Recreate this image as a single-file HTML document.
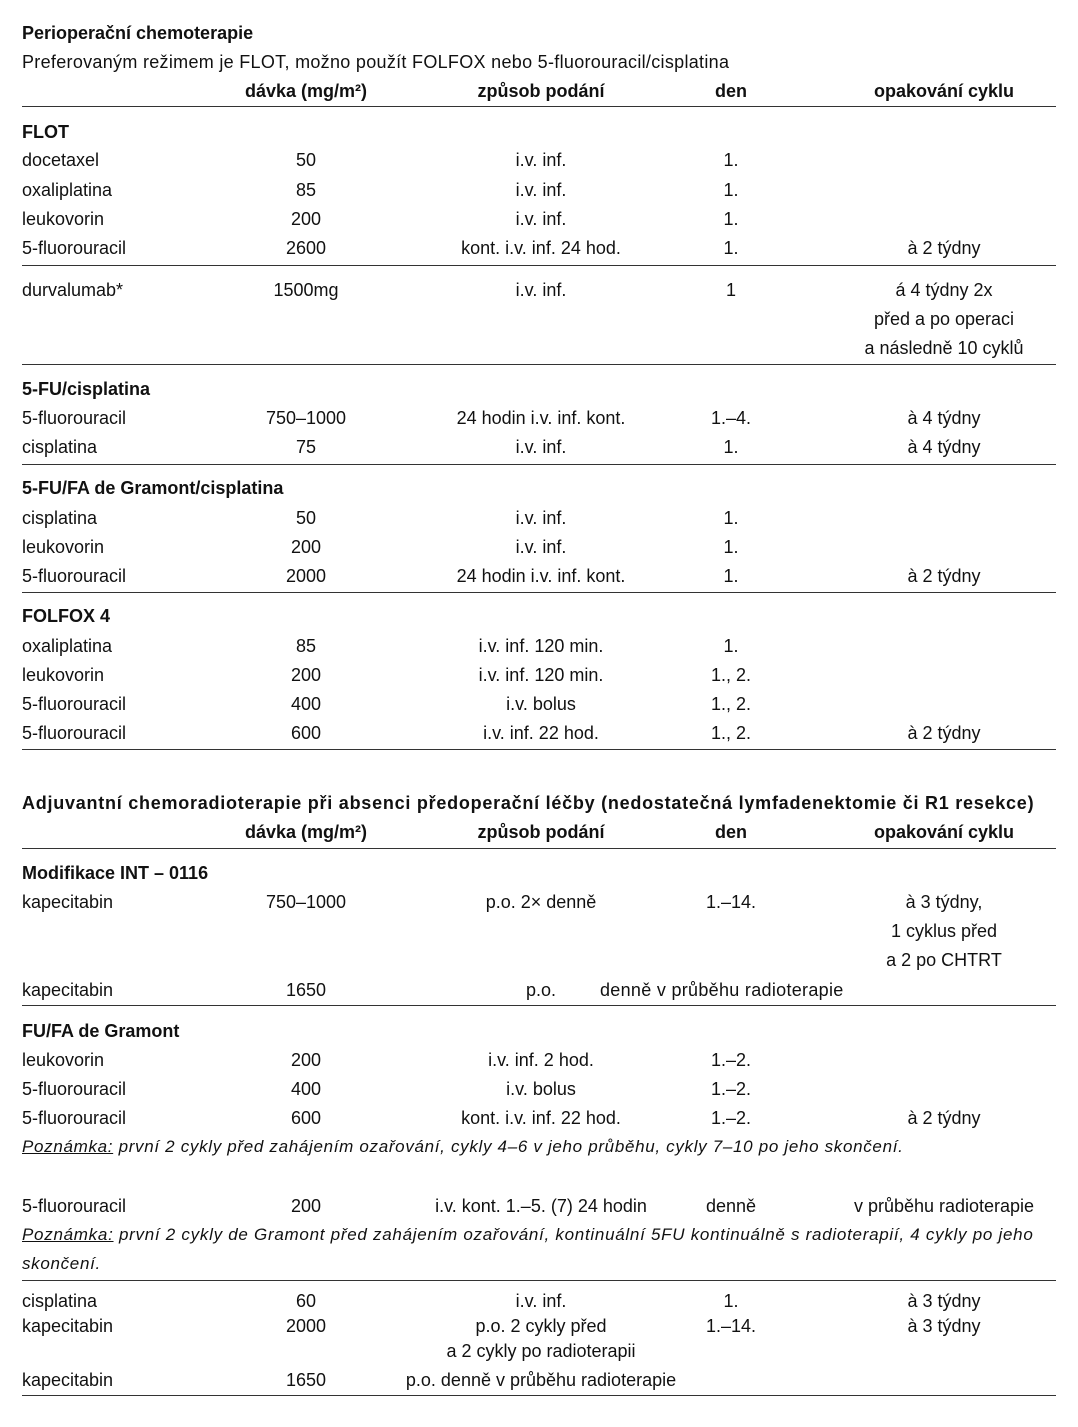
<!DOCTYPE html>
<html><head><meta charset="utf-8"><style>
body{margin:0;width:1078px;height:1427px;background:#fff;position:relative;font-family:"Liberation Sans",sans-serif;font-size:18px;color:#111;overflow:hidden}
div{position:absolute;line-height:22px;white-space:nowrap}
.l{left:22px}
.d{left:306px;transform:translateX(-50%)}
.r{left:541px;transform:translateX(-50%)}
.n{left:731px;transform:translateX(-50%)}
.y{left:944px;transform:translateX(-50%)}
.b{font-weight:bold}
.h{height:1px;background:#333;left:22px;width:1034px}
.it{font-size:17px;letter-spacing:0.68px}
</style></head><body>
<div class="l b" style="top:22px">Perioperační chemoterapie</div>
<div class="l" style="top:51px;letter-spacing:0.3px">Preferovaným režimem je FLOT, možno použít FOLFOX nebo 5-fluorouracil/cisplatina</div>
<div class="d b" style="top:80px">dávka (mg/m²)</div><div class="r b" style="top:80px">způsob podání</div><div class="n b" style="top:80px">den</div><div class="y b" style="top:80px">opakování cyklu</div>
<div class="h" style="top:106px"></div>
<div class="l b" style="top:121px">FLOT</div>
<div class="l" style="top:149px">docetaxel</div><div class="d" style="top:149px">50</div><div class="r" style="top:149px">i.v. inf.</div><div class="n" style="top:149px">1.</div>
<div class="l" style="top:179px">oxaliplatina</div><div class="d" style="top:179px">85</div><div class="r" style="top:179px">i.v. inf.</div><div class="n" style="top:179px">1.</div>
<div class="l" style="top:208px">leukovorin</div><div class="d" style="top:208px">200</div><div class="r" style="top:208px">i.v. inf.</div><div class="n" style="top:208px">1.</div>
<div class="l" style="top:237px">5-fluorouracil</div><div class="d" style="top:237px">2600</div><div class="r" style="top:237px">kont. i.v. inf. 24 hod.</div><div class="n" style="top:237px">1.</div><div class="y" style="top:237px">à 2 týdny</div>
<div class="h" style="top:265px"></div>
<div class="l" style="top:279px">durvalumab*</div><div class="d" style="top:279px">1500mg</div><div class="r" style="top:279px">i.v. inf.</div><div class="n" style="top:279px">1</div><div class="y" style="top:279px">á 4 týdny 2x</div>
<div class="y" style="top:308px">před a po operaci</div>
<div class="y" style="top:337px">a následně 10 cyklů</div>
<div class="h" style="top:364px"></div>
<div class="l b" style="top:378px">5-FU/cisplatina</div>
<div class="l" style="top:407px">5-fluorouracil</div><div class="d" style="top:407px">750–1000</div><div class="r" style="top:407px">24 hodin i.v. inf. kont.</div><div class="n" style="top:407px">1.–4.</div><div class="y" style="top:407px">à 4 týdny</div>
<div class="l" style="top:436px">cisplatina</div><div class="d" style="top:436px">75</div><div class="r" style="top:436px">i.v. inf.</div><div class="n" style="top:436px">1.</div><div class="y" style="top:436px">à 4 týdny</div>
<div class="h" style="top:464px"></div>
<div class="l b" style="top:477px">5-FU/FA de Gramont/cisplatina</div>
<div class="l" style="top:507px">cisplatina</div><div class="d" style="top:507px">50</div><div class="r" style="top:507px">i.v. inf.</div><div class="n" style="top:507px">1.</div>
<div class="l" style="top:536px">leukovorin</div><div class="d" style="top:536px">200</div><div class="r" style="top:536px">i.v. inf.</div><div class="n" style="top:536px">1.</div>
<div class="l" style="top:565px">5-fluorouracil</div><div class="d" style="top:565px">2000</div><div class="r" style="top:565px">24 hodin i.v. inf. kont.</div><div class="n" style="top:565px">1.</div><div class="y" style="top:565px">à 2 týdny</div>
<div class="h" style="top:592px"></div>
<div class="l b" style="top:605px">FOLFOX 4</div>
<div class="l" style="top:635px">oxaliplatina</div><div class="d" style="top:635px">85</div><div class="r" style="top:635px">i.v. inf. 120 min.</div><div class="n" style="top:635px">1.</div>
<div class="l" style="top:664px">leukovorin</div><div class="d" style="top:664px">200</div><div class="r" style="top:664px">i.v. inf. 120 min.</div><div class="n" style="top:664px">1., 2.</div>
<div class="l" style="top:693px">5-fluorouracil</div><div class="d" style="top:693px">400</div><div class="r" style="top:693px">i.v. bolus</div><div class="n" style="top:693px">1., 2.</div>
<div class="l" style="top:722px">5-fluorouracil</div><div class="d" style="top:722px">600</div><div class="r" style="top:722px">i.v. inf. 22 hod.</div><div class="n" style="top:722px">1., 2.</div><div class="y" style="top:722px">à 2 týdny</div>
<div class="h" style="top:749px"></div>
<div class="l b" style="top:792px;letter-spacing:0.75px">Adjuvantní chemoradioterapie při absenci předoperační léčby (nedostatečná lymfadenektomie či R1 resekce)</div>
<div class="d b" style="top:821px">dávka (mg/m²)</div><div class="r b" style="top:821px">způsob podání</div><div class="n b" style="top:821px">den</div><div class="y b" style="top:821px">opakování cyklu</div>
<div class="h" style="top:848px"></div>
<div class="l b" style="top:862px">Modifikace INT – 0116</div>
<div class="l" style="top:891px">kapecitabin</div><div class="d" style="top:891px">750–1000</div><div class="r" style="top:891px">p.o. 2× denně</div><div class="n" style="top:891px">1.–14.</div><div class="y" style="top:891px">à 3 týdny,</div>
<div class="y" style="top:920px">1 cyklus před</div>
<div class="y" style="top:949px">a 2 po CHTRT</div>
<div class="l" style="top:979px">kapecitabin</div><div class="d" style="top:979px">1650</div><div class="r" style="top:979px">p.o.</div><div style="top:979px;left:600px;letter-spacing:0.3px">denně v průběhu radioterapie</div>
<div class="h" style="top:1005px"></div>
<div class="l b" style="top:1020px">FU/FA de Gramont</div>
<div class="l" style="top:1049px">leukovorin</div><div class="d" style="top:1049px">200</div><div class="r" style="top:1049px">i.v. inf. 2 hod.</div><div class="n" style="top:1049px">1.–2.</div>
<div class="l" style="top:1078px">5-fluorouracil</div><div class="d" style="top:1078px">400</div><div class="r" style="top:1078px">i.v. bolus</div><div class="n" style="top:1078px">1.–2.</div>
<div class="l" style="top:1107px">5-fluorouracil</div><div class="d" style="top:1107px">600</div><div class="r" style="top:1107px">kont. i.v. inf. 22 hod.</div><div class="n" style="top:1107px">1.–2.</div><div class="y" style="top:1107px">à 2 týdny</div>
<div class="l it" style="top:1136px"><i><u>Poznámka:</u> první 2 cykly před zahájením ozařování, cykly 4–6 v jeho průběhu, cykly 7–10 po jeho skončení.</i></div>
<div class="l" style="top:1195px">5-fluorouracil</div><div class="d" style="top:1195px">200</div><div class="r" style="top:1195px">i.v. kont. 1.–5. (7) 24 hodin</div><div style="top:1195px;left:731px;transform:translateX(-50%)">denně</div><div class="y" style="top:1195px">v průběhu radioterapie</div>
<div class="l it" style="top:1224px;letter-spacing:0.72px"><i><u>Poznámka:</u> první 2 cykly de Gramont před zahájením ozařování, kontinuální 5FU kontinuálně s radioterapií, 4 cykly po jeho</i></div>
<div class="l it" style="top:1253px"><i>skončení.</i></div>
<div class="h" style="top:1280px"></div>
<div class="l" style="top:1290px">cisplatina</div><div class="d" style="top:1290px">60</div><div class="r" style="top:1290px">i.v. inf.</div><div class="n" style="top:1290px">1.</div><div class="y" style="top:1290px">à 3 týdny</div>
<div class="l" style="top:1315px">kapecitabin</div><div class="d" style="top:1315px">2000</div><div class="r" style="top:1315px">p.o. 2 cykly před</div><div class="n" style="top:1315px">1.–14.</div><div class="y" style="top:1315px">à 3 týdny</div>
<div class="r" style="top:1340px">a 2 cykly po radioterapii</div>
<div class="l" style="top:1369px">kapecitabin</div><div class="d" style="top:1369px">1650</div><div class="r" style="top:1369px">p.o. denně v průběhu radioterapie</div>
<div class="h" style="top:1395px"></div>
</body></html>
